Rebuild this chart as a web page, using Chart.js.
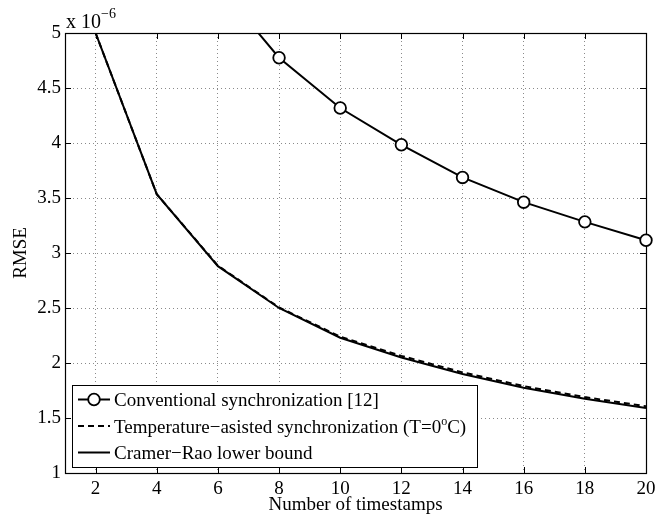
<!DOCTYPE html>
<html>
<head>
<meta charset="utf-8">
<script src="https://cdn.jsdelivr.net/npm/chart.js@4.4.0/dist/chart.umd.min.js"></script>
<style>
    html, body { margin: 0; padding: 0; background: #fff; }
    #wrap { width: 669px; height: 517px; }
</style>
</head>
<body>
<div id="wrap"><canvas id="rmseChart" width="669" height="517"></canvas></div>
<script>
// Values (RMSE, in units of 1e-6)
const timestamps = [2, 4, 6, 8, 10, 12, 14, 16, 18, 20];
const conventional = [9.5, 6.7, 5.44, 4.775, 4.318, 3.984, 3.687, 3.462, 3.283, 3.116];
const tempAssisted = [5.0, 3.535, 2.885, 2.505, 2.24, 2.065, 1.915, 1.79, 1.69, 1.607];
const cramerRao = [5.0, 3.535, 2.88, 2.5, 2.23, 2.05, 1.9, 1.775, 1.675, 1.59];

// Axis ticks
const xTicks = [2, 4, 6, 8, 10, 12, 14, 16, 18, 20];
const yTicks = [1, 1.5, 2, 2.5, 3, 3.5, 4, 4.5, 5];

const seriesLabels = [
    'Conventional synchronization [12]',
    'Temperature\u2212asisted synchronization (T=0^oC)',
    'Cramer\u2212Rao lower bound'
];

const FONT = "'Liberation Serif', 'Times New Roman', serif";
const FS = 19;

// Text helpers (handles ^x and ^{..} superscripts)
function richParts(text) {
    const parts = [];
    const re = /\^\{([^}]*)\}|\^(.)/g;
    let last = 0, m;
    while ((m = re.exec(text))) {
        if (m.index > last) parts.push({ t: text.slice(last, m.index), sup: false });
        parts.push({ t: m[1] !== undefined ? m[1] : m[2], sup: true });
        last = re.lastIndex;
    }
    if (last < text.length) parts.push({ t: text.slice(last), sup: false });
    return parts;
}

function drawRich(ctx, text, x, y, size, supSize, raise, measureOnly) {
    let cx = x;
    richParts(text).forEach(p => {
        ctx.font = (p.sup ? supSize : size) + 'px ' + FONT;
        if (!measureOnly) ctx.fillText(p.t, cx, p.sup ? y - raise : y);
        cx += ctx.measureText(p.t).width;
    });
    return cx - x;
}

// Box + inward ticks, MATLAB style
const framePlugin = {
    id: 'matlabFrame',
    beforeDatasetsDraw(chart) {
        const { ctx, chartArea: a, scales: { x, y } } = chart;
        const tl = 6;
        ctx.save();
        ctx.strokeStyle = '#000';
        ctx.lineWidth = 1;
        ctx.setLineDash([]);
        ctx.beginPath();
        xTicks.forEach(v => {
            const px = Math.round(x.getPixelForValue(v)) + 0.5;
            ctx.moveTo(px, a.bottom); ctx.lineTo(px, a.bottom - tl);
            ctx.moveTo(px, a.top); ctx.lineTo(px, a.top + tl);
        });
        yTicks.forEach(v => {
            const py = Math.round(y.getPixelForValue(v)) + 0.5;
            ctx.moveTo(a.left, py); ctx.lineTo(a.left + tl, py);
            ctx.moveTo(a.right, py); ctx.lineTo(a.right - tl, py);
        });
        ctx.stroke();
        ctx.lineWidth = 1.2;
        ctx.strokeRect(Math.round(a.left) + 0.5, Math.round(a.top) + 0.5,
            Math.round(a.right - a.left), Math.round(a.bottom - a.top));
        ctx.restore();
    }
};

// Exponent label and boxed legend inside the axes
const legendPlugin = {
    id: 'boxLegend',
    afterDraw(chart) {
        const { ctx, chartArea: a } = chart;
        ctx.save();
        ctx.fillStyle = '#000';
        ctx.textBaseline = 'alphabetic';
        ctx.textAlign = 'left';
        drawRich(ctx, 'x 10^{\u22126}', a.left + 1, a.top - 5, 20, 14, 10);

        const rowH = 26.5, h = 82;
        const left = a.left + 7;
        const top = a.bottom - 6.5 - h;
        const textX = left + 42;
        let maxW = 0;
        chart.data.datasets.forEach(ds => {
            maxW = Math.max(maxW, drawRich(ctx, ds.label, 0, 0, FS, 12, 8, true));
        });
        const w = textX + maxW + 11 - left;

        ctx.fillStyle = '#fff';
        ctx.fillRect(Math.round(left) + 0.5, Math.round(top) + 0.5, Math.round(w), h);
        ctx.strokeStyle = '#000';
        ctx.lineWidth = 1;
        ctx.strokeRect(Math.round(left) + 0.5, Math.round(top) + 0.5, Math.round(w), h);

        chart.data.datasets.forEach((ds, i) => {
            const cy = top + 15 + i * rowH;
            ctx.strokeStyle = ds.borderColor;
            ctx.lineWidth = ds.borderWidth;
            ctx.setLineDash(ds.borderDash || []);
            ctx.beginPath();
            ctx.moveTo(left + 6, cy);
            ctx.lineTo(left + 38, cy);
            ctx.stroke();
            ctx.setLineDash([]);
            if (ds.pointRadius > 0) {
                ctx.beginPath();
                ctx.arc(left + 22, cy, ds.pointRadius, 0, Math.PI * 2);
                ctx.fillStyle = ds.pointBackgroundColor;
                ctx.fill();
                ctx.lineWidth = ds.pointBorderWidth;
                ctx.strokeStyle = ds.pointBorderColor;
                ctx.stroke();
            }
            ctx.fillStyle = '#000';
            drawRich(ctx, ds.label, textX, cy + 6.5, FS, 12, 8);
        });
        ctx.restore();
    }
};

function toPoints(values) {
    return timestamps.map((t, i) => ({ x: t, y: values[i] }));
}

const ctx = document.getElementById('rmseChart').getContext('2d');
const rmseChart = new Chart(ctx, {
    type: 'line',
    data: {
        datasets: [{
            label: seriesLabels[0],
            data: toPoints(conventional),
            borderColor: '#000',
            borderWidth: 2,
            pointRadius: 5.8,
            pointBorderWidth: 1.8,
            pointBackgroundColor: '#fff',
            pointBorderColor: '#000',
            clip: { left: 0, top: 0, right: 10, bottom: 0 }
        }, {
            label: seriesLabels[1],
            data: toPoints(tempAssisted),
            borderColor: '#000',
            borderWidth: 2,
            borderDash: [6, 4],
            pointRadius: 0
        }, {
            label: seriesLabels[2],
            data: toPoints(cramerRao),
            borderColor: '#000',
            borderWidth: 2,
            pointRadius: 0
        }]
    },
    options: {
        responsive: false,
        animation: false,
        layout: { padding: { top: 33, right: 23, left: 0, bottom: 0 } },
        plugins: {
            legend: { display: false },
            tooltip: { enabled: false }
        },
        elements: { line: { tension: 0 } },
        scales: {
            x: {
                type: 'linear',
                min: 1,
                max: 20,
                afterBuildTicks: s => { s.ticks = xTicks.map(v => ({ value: v })); },
                afterFit: s => { s.height = 44; },
                grid: { color: '#8a8a8a', lineWidth: 1, drawTicks: false },
                border: { display: false, dash: [1, 3] },
                ticks: {
                    color: '#000',
                    font: { family: FONT, size: FS },
                    padding: 5,
                    maxRotation: 0,
                    autoSkip: false,
                    callback: v => String(v)
                },
                title: {
                    display: true,
                    text: 'Number of timestamps',
                    color: '#000',
                    font: { family: FONT, size: FS },
                    padding: { top: 0, bottom: 1 }
                }
            },
            y: {
                type: 'linear',
                min: 1,
                max: 5,
                afterBuildTicks: s => { s.ticks = yTicks.map(v => ({ value: v })); },
                afterFit: s => { s.width = 65; },
                grid: { color: '#8a8a8a', lineWidth: 1, drawTicks: false },
                border: { display: false, dash: [1, 3] },
                ticks: {
                    color: '#000',
                    font: { family: FONT, size: FS },
                    padding: 4,
                    autoSkip: false,
                    callback: v => String(v)
                },
                title: {
                    display: true,
                    text: 'RMSE',
                    color: '#000',
                    font: { family: FONT, size: FS },
                    padding: { top: 10, bottom: 0 }
                }
            }
        }
    },
    plugins: [framePlugin, legendPlugin]
});
</script>
</body>
</html>
